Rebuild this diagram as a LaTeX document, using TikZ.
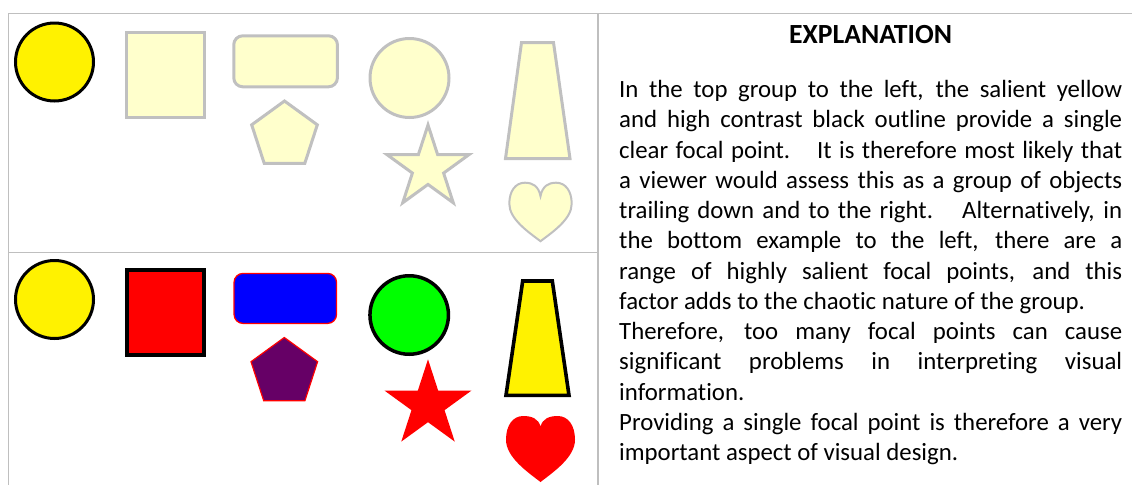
\documentclass[tikz,border=0pt]{standalone}
\usepackage{fontspec}
\setmainfont[Ligatures=NoCommon]{Carlito}
\usetikzlibrary{shapes.geometric}
\definecolor{pale}{HTML}{FFFFCC}
\definecolor{grayline}{HTML}{C0C0C0}
\definecolor{tblline}{HTML}{BFBFBF}
\definecolor{purp}{HTML}{660066}
\definecolor{brightgreen}{HTML}{00FF00}
\newcommand{\jline}[1]{\makebox[\linewidth][s]{#1}\par}
\tikzset{
  faded/.style={draw=grayline, fill=pale, line width=3pt},
  boldline/.style={draw=black, line width=3pt},
  tbl/.style={draw=tblline, line width=1.8pt},
}
\begin{document}
\begin{tikzpicture}[x=1pt, y=-1pt]
\useasboundingbox (0,0) rectangle (1132,485);
% table lines
\coordinate (tl) at (8.5,13.5);
\coordinate (tr) at (1132,13.5);
\coordinate (bl) at (8.5,485);
\coordinate (mt) at (598,13.5);
\coordinate (mb) at (598,485);
\coordinate (ml) at (8.5,252.5);
\coordinate (mr) at (598,252.5);
\draw[tbl] (tr) -- (tl) -- (bl);
\draw[tbl] (mt) -- (mb);
\draw[tbl] (ml) -- (mr);

% ---------- top group ----------
\node[circle, minimum size=78pt, inner sep=0pt, boldline, fill=yellow] (c1) at (54.5,62) {};
\node[rectangle, minimum width=78pt, minimum height=85pt, inner sep=0pt, faded] (s1) at (165.5,75) {};
\node[rectangle, rounded corners=9pt, minimum width=103.7pt, minimum height=51pt, inner sep=0pt, faded] (r1) at (285.6,61.3) {};
\node[regular polygon, regular polygon sides=5, minimum size=69pt, inner sep=0pt, faded] (p1) at (284.5,135.5) {};
\node[circle, minimum size=79pt, inner sep=0pt, faded] (g1) at (409.5,78) {};
\node[star, star points=5, star point ratio=2.618, minimum size=86pt, inner sep=0pt, faded] (st1) at (428,168) {};
\draw[faded] (521.5,42.5) -- (553.5,42.5) -- (570,158.5) -- (505.5,158.5) -- cycle;
\begin{scope}[shift={(540.5,182.7)}, xscale=31.2, yscale=58.5]
\draw[draw=grayline, fill=pale, line width=2pt]
  (0,0.23) .. controls (-0.06,0.06) and (-0.25,0) .. (-0.5,0)
  .. controls (-0.8,0) and (-1,0.14) .. (-1,0.36)
  .. controls (-1,0.62) and (-0.4,0.84) .. (0,1)
  .. controls (0.4,0.84) and (1,0.62) .. (1,0.36)
  .. controls (1,0.14) and (0.8,0) .. (0.5,0)
  .. controls (0.25,0) and (0.06,0.06) .. (0,0.23) -- cycle;
\end{scope}

% ---------- bottom group ----------
\node[circle, minimum size=78pt, inner sep=0pt, boldline, fill=yellow] (c2) at (54.5,299.5) {};
\node[rectangle, minimum width=77pt, minimum height=85pt, inner sep=0pt, boldline, line width=3.6pt, fill=red] (s2) at (165.5,312.2) {};
\node[rectangle, rounded corners=9pt, minimum width=102.5pt, minimum height=50pt, inner sep=0pt, draw=red, line width=1.3pt, fill=blue] (r2) at (285.3,298.4) {};
\node[regular polygon, regular polygon sides=5, minimum size=70pt, inner sep=0pt, draw=red, line width=1.2pt, fill=purp] (p2) at (284.3,372.5) {};
\node[circle, minimum size=78.5pt, inner sep=0pt, boldline, line width=3.5pt, fill=brightgreen] (g2) at (409.2,315) {};
\node[star, star points=5, star point ratio=2.618, minimum size=91pt, inner sep=0pt, fill=red] (st2) at (428,404.8) {};
\draw[boldline, line width=3.6pt, fill=yellow] (522.7,281) -- (552.3,281) -- (569,395.3) -- (506,395.3) -- cycle;
\begin{scope}[shift={(540.5,416)}, xscale=34.5, yscale=66]
\fill[red]
  (0,0.16) .. controls (-0.06,0.04) and (-0.25,0) .. (-0.5,0)
  .. controls (-0.8,0) and (-1,0.14) .. (-1,0.36)
  .. controls (-1,0.62) and (-0.4,0.84) .. (0,1)
  .. controls (0.4,0.84) and (1,0.62) .. (1,0.36)
  .. controls (1,0.14) and (0.8,0) .. (0.5,0)
  .. controls (0.25,0) and (0.06,0.04) .. (0,0.16) -- cycle;
\end{scope}

% ---------- text ----------
\node[font=\bfseries\fontsize{27.7pt}{33pt}\selectfont, anchor=base, inner sep=0pt] (title) at (870.5,43) {EXPLANATION};
\node[anchor=base west, inner sep=0pt] (expl) at (619,97.5) {%
\begin{minipage}[t]{503pt}\fontsize{24.8pt}{30.25pt}\selectfont\setlength{\parindent}{0pt}%
\jline{In the top group to the left, the salient yellow}
\jline{and high contrast black outline provide a single}
\jline{clear focal point.\hspace{14pt} It is therefore most likely that}
\jline{a viewer would assess this as a group of objects}
\jline{trailing down and to the right.\hspace{14pt} Alternatively, in}
\jline{the bottom example to the left, there are a}
\jline{range of highly salient focal points, and this}
factor adds to the chaotic nature of the group.\par
\jline{Therefore, too many focal points can cause}
\jline{significant problems in interpreting visual}
information.\par
\jline{Providing a single focal point is therefore a very}
important aspect of visual design.\par
\end{minipage}};
\end{tikzpicture}
\end{document}
